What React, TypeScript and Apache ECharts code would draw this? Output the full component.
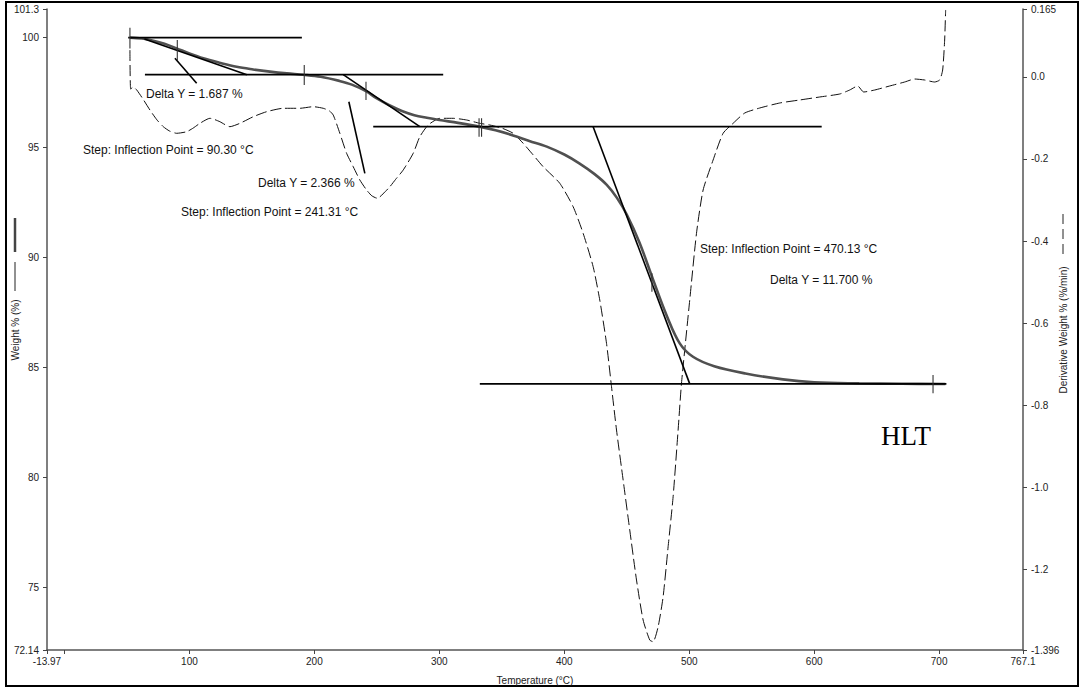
import React, { useEffect, useRef } from "react";
import * as echarts from "echarts";

// ---- Axis ticks ----
const xLabelValues = [-13.97, 100, 200, 300, 400, 500, 600, 700, 767.1];
const xTickValues = [-13.97, 0, 100, 200, 300, 400, 500, 600, 700, 767.1];
const weightTickValues = [72.14, 75, 80, 85, 90, 95, 100, 101.3];
const derivTickValues = [-1.396, -1.2, -1.0, -0.8, -0.6, -0.4, -0.2, 0.0, 0.165];

// ---- Weight % curve ----
const weightTemp = [52.4, 62, 71.1, 80, 89.8, 100, 111.1, 124, 137.8, 151, 164.4, 178, 191.1, 205, 220, 230, 241.3, 250, 260, 270, 280, 290, 300, 315, 332, 345, 359, 372, 386, 400, 412, 424, 434, 442, 450, 460, 471, 482, 492.4, 503, 520, 545, 575, 600, 636, 670, 705];
const weightValues = [100.0, 99.96, 99.86, 99.72, 99.51, 99.28, 99.06, 98.86, 98.67, 98.55, 98.45, 98.37, 98.31, 98.22, 98.03, 97.86, 97.56, 97.23, 96.92, 96.66, 96.47, 96.35, 96.25, 96.12, 95.95, 95.78, 95.55, 95.3, 95.04, 94.68, 94.28, 93.8, 93.3, 92.72, 91.95, 90.7, 89.0, 87.35, 86.09, 85.48, 85.05, 84.72, 84.45, 84.32, 84.27, 84.25, 84.24];

// ---- Derivative weight curve ----
const derivTemp = [52.4, 53.0, 55.0, 57.8, 63, 68.4, 74, 79.1, 84, 89.8, 97.8, 103, 108.4, 116.4, 120, 124.4, 132.4, 140.4, 151.1, 161.8, 175.1, 188.4, 199.1, 207.1, 212, 215.1, 220.4, 225.8, 231.1, 236.4, 241.8, 246, 250.5, 255, 260.4, 265, 271.1, 279.1, 284.4, 291.1, 300.4, 311.1, 321.8, 332.4, 340.4, 350, 359.1, 367.1, 375, 383.1, 396.4, 407.1, 415.1, 423.1, 428.4, 433.8, 437.8, 441.8, 447.1, 452.4, 457.8, 463.1, 468.4, 471.1, 475.1, 479.1, 483.1, 487.1, 491.1, 493.8, 500.4, 505.8, 511.1, 519.1, 527.1, 535.1, 544.4, 556.4, 572.4, 588.4, 604.4, 620.4, 628.4, 634.8, 639.6, 648.4, 660.4, 672.4, 680.4, 688.4, 696.4, 700.4, 702.8, 704.4, 705.2];
const derivValues = [0.065, -0.03, -0.025, -0.032, -0.055, -0.081, -0.105, -0.1216, -0.132, -0.1377, -0.1338, -0.125, -0.1134, -0.1012, -0.104, -0.1095, -0.1216, -0.1134, -0.0973, -0.0851, -0.0768, -0.0768, -0.0729, -0.0768, -0.083, -0.0932, -0.1377, -0.1864, -0.2191, -0.2515, -0.2758, -0.29, -0.296, -0.285, -0.2678, -0.25, -0.2271, -0.1864, -0.146, -0.1175, -0.1012, -0.1012, -0.1053, -0.1134, -0.1175, -0.125, -0.1377, -0.1621, -0.19, -0.2191, -0.2595, -0.3165, -0.3813, -0.4626, -0.5437, -0.6492, -0.7549, -0.8603, -0.9821, -1.1039, -1.2256, -1.323, -1.3718, -1.3759, -1.3394, -1.2663, -1.1445, -1.0228, -0.8603, -0.7466, -0.5437, -0.3813, -0.2758, -0.2028, -0.1377, -0.1134, -0.0883, -0.0761, -0.0639, -0.0566, -0.0493, -0.042, -0.0323, -0.0225, -0.0371, -0.0323, -0.0225, -0.0128, -0.0055, -0.0079, -0.0128, -0.0079, 0.0164, 0.0895, 0.1626];

// ---- Step analysis (weight %) ----
const baselineSegments = [
  [[51, 100.0], [190, 100.0]],
  [[64.4, 98.313], [303.1, 98.313]],
  [[247.1, 95.947], [606, 95.947]],
  [[332.4, 84.247], [705.8, 84.247]],
];
const tangentSegments = [
  [[64, 99.93], [146, 98.313]],
  [[223.1, 98.313], [284.4, 95.947]],
  [[423.1, 95.947], [500.4, 84.247]],
];
const leaderSegments = [
  [[88.4, 99.06], [105.8, 97.92]],
  [[227.6, 97.08], [240.4, 93.82]],
];
const markerSegments = [
  [[52.4, 100.45], [52.4, 99.5]],
  [[90.3, 99.89], [90.3, 98.98]],
  [[191.9, 98.75], [191.9, 97.84]],
  [[241.31, 97.99], [241.31, 97.16]],
  [[331.8, 96.33], [331.8, 95.49]],
  [[333.8, 96.33], [333.8, 95.49]],
  [[470.13, 89.28], [470.13, 88.44]],
  [[695.1, 84.65], [695.1, 83.82]],
];

const annotationTexts = [
  { text: "Delta Y = 1.687 %", x: 146, y: 94 },
  { text: "Step: Inflection Point = 90.30 °C", x: 83, y: 150 },
  { text: "Delta Y = 2.366 %", x: 258, y: 183 },
  { text: "Step: Inflection Point = 241.31 °C", x: 181, y: 212 },
  { text: "Step: Inflection Point = 470.13 °C", x: 700, y: 249 },
  { text: "Delta Y = 11.700 %", x: 770, y: 280 },
];

const FONT = "'Liberation Sans', Arial, sans-serif";

function segSeries(segs: number[][][], color: string, width: number, z: number) {
  return segs.map((s, i) => ({
    type: "line",
    name: "seg" + z + "_" + i,
    xAxisIndex: 0,
    yAxisIndex: 0,
    data: s,
    symbol: "none",
    silent: true,
    z,
    lineStyle: { color, width },
  }));
}

export default function App() {
  const ref = useRef<HTMLDivElement>(null);
  useEffect(() => {
    if (!ref.current) return;
    const chart = echarts.init(ref.current, undefined, { renderer: "svg" });
    const axisLineStyle = { color: "#555", width: 1.5 };
    const labelStyle = { fontSize: 10, color: "#222", fontFamily: FONT };
    const fmtX = (v: number) => (v === -13.97 ? "-13.97" : v === 767.1 ? "767.1" : String(v));
    const fmtD = (v: number) => {
      if (Math.abs(v) < 1e-9) return "0.0";
      if (Math.abs(v - 0.165) < 1e-9) return "0.165";
      if (Math.abs(v + 1.396) < 1e-9) return "-1.396";
      return v.toFixed(1);
    };
    const fmtW = (v: number) => (v === 72.14 ? "72.14" : v === 101.3 ? "101.3" : String(v));

    const option: any = {
      animation: false,
      backgroundColor: "#ffffff",
      grid: { left: 47, right: 58, top: 9, bottom: 39, containLabel: false, outerBoundsMode: "none" },
      xAxis: {
        type: "value",
        min: -13.97,
        max: 767.1,
        axisLine: { show: true, onZero: false, lineStyle: axisLineStyle },
        axisTick: { show: true, length: 4, customValues: xTickValues, lineStyle: { color: "#444" } },
        axisLabel: { ...labelStyle, margin: 6, customValues: xLabelValues, formatter: fmtX },
        splitLine: { show: false },
      },
      yAxis: [
        {
          type: "value",
          position: "left",
          min: 72.14,
          max: 101.3,
          axisLine: { show: true, onZero: false, lineStyle: axisLineStyle },
          axisTick: { show: true, length: 4, customValues: weightTickValues, lineStyle: { color: "#444" } },
          axisLabel: { ...labelStyle, margin: 8, customValues: weightTickValues, formatter: fmtW },
          splitLine: { show: false },
        },
        {
          type: "value",
          position: "right",
          min: -1.396,
          max: 0.165,
          axisLine: { show: true, onZero: false, lineStyle: axisLineStyle },
          axisTick: { show: true, length: 4, customValues: derivTickValues, lineStyle: { color: "#444" } },
          axisLabel: { ...labelStyle, margin: 8, customValues: derivTickValues, formatter: fmtD },
          splitLine: { show: false },
        },
      ],
      series: [
        {
          type: "line",
          name: "Derivative Weight %",
          xAxisIndex: 0,
          yAxisIndex: 1,
          data: derivTemp.map((t, i) => [t, derivValues[i]]),
          symbol: "none",
          smooth: 0.2,
          z: 2,
          lineStyle: { color: "#111", width: 1, type: [11, 4] },
        },
        {
          type: "line",
          name: "Weight %",
          xAxisIndex: 0,
          yAxisIndex: 0,
          data: weightTemp.map((t, i) => [t, weightValues[i]]),
          symbol: "none",
          smooth: 0.35,
          z: 3,
          lineStyle: { color: "#505050", width: 2.6 },
        },
        ...segSeries(baselineSegments, "#000", 1.8, 4),
        ...segSeries(tangentSegments, "#000", 1.6, 4),
        ...segSeries(leaderSegments, "#000", 1.6, 4),
        ...segSeries(markerSegments, "#333", 1.1, 5),
      ],
      graphic: [
        {
          type: "rect",
          shape: { x: 6, y: 2, width: 1072, height: 684 },
          style: { fill: "none", stroke: "#000", lineWidth: 2 },
          silent: true,
        },
        ...annotationTexts.map((a) => ({
          type: "text",
          x: a.x,
          y: a.y,
          style: { text: a.text, fontSize: 12, fontFamily: FONT, fill: "#111", align: "left", verticalAlign: "middle" },
          silent: true,
        })),
        {
          type: "text",
          x: 881,
          y: 436,
          style: { text: "HLT", fontSize: 27, fontFamily: "'Liberation Serif', 'Times New Roman', serif", fill: "#000", align: "left", verticalAlign: "middle" },
        },
        {
          type: "text",
          x: 535,
          y: 680,
          style: { text: "Temperature (°C)", fontSize: 10, fontFamily: FONT, fill: "#222", align: "center", verticalAlign: "middle" },
        },
        {
          type: "text",
          x: 15,
          y: 330,
          rotation: Math.PI / 2,
          style: { text: "Weight % (%)", fontSize: 10, fontFamily: FONT, fill: "#222", align: "center", verticalAlign: "middle" },
        },
        { type: "line", shape: { x1: 15, y1: 218, x2: 15, y2: 252 }, style: { stroke: "#444", lineWidth: 2.5 } },
        { type: "line", shape: { x1: 15, y1: 262, x2: 15, y2: 291 }, style: { stroke: "#222", lineWidth: 1 } },
        {
          type: "text",
          x: 1063,
          y: 330,
          rotation: Math.PI / 2,
          style: { text: "Derivative Weight % (%/min)", fontSize: 10, fontFamily: FONT, fill: "#222", align: "center", verticalAlign: "middle" },
        },
        { type: "line", shape: { x1: 1063, y1: 214, x2: 1063, y2: 257 }, style: { stroke: "#222", lineWidth: 1, lineDash: [10, 5] } },
      ],
    };
    chart.setOption(option);
    return () => chart.dispose();
  }, []);
  return (
    <div
      ref={ref}
      style={{ position: "absolute", left: 0, top: 0, width: 1081, height: 689, background: "#fff" }}
    />
  );
}
